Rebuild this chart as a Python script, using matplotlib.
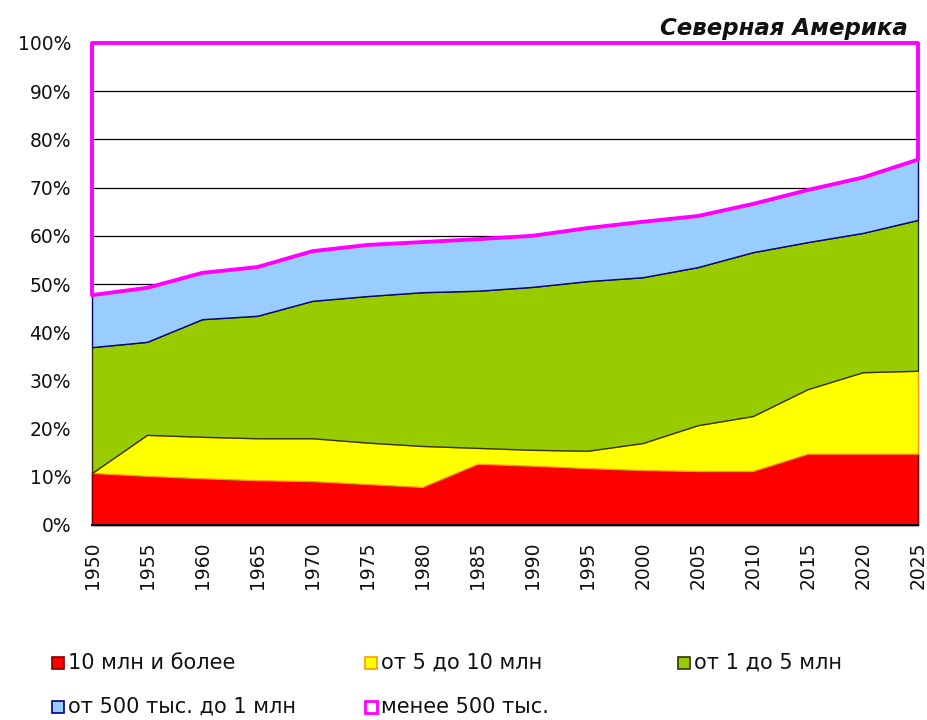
import numpy as np
import matplotlib.pyplot as plt
from matplotlib.patches import Rectangle

plt.rcParams['font.family'] = ['DejaVu Sans']

years = [1950, 1955, 1960, 1965, 1970, 1975, 1980, 1985, 1990, 1995, 2000, 2005, 2010, 2015, 2020, 2025]
labels = ['10 млн и более', 'от 5 до 10 млн', 'от 1 до 5 млн', 'от 500 тыс. до 1 млн', 'менее 500 тыс.']

# shares of urban population, %
big = [10.8, 10.2, 9.7, 9.3, 9.1, 8.5, 7.9, 12.7, 12.3, 11.8, 11.4, 11.2, 11.2, 14.8, 14.8, 14.8]
mid = [0.0, 8.5, 8.6, 8.7, 8.9, 8.6, 8.5, 3.3, 3.3, 3.6, 5.6, 9.5, 11.4, 13.4, 16.9, 17.2]
one_five = [26.1, 19.3, 24.4, 25.4, 28.5, 30.4, 31.9, 32.6, 33.8, 35.2, 34.4, 32.8, 34.0, 30.5, 28.9, 31.3]
half_one = [10.8, 11.2, 9.6, 10.1, 10.3, 10.6, 10.4, 10.7, 10.6, 11.0, 11.5, 10.6, 10.0, 10.8, 11.5, 12.5]
small = [52.3, 50.8, 47.7, 46.5, 43.2, 41.9, 41.3, 40.7, 40.0, 38.4, 37.1, 35.9, 33.4, 30.5, 27.9, 24.2]

faces = ['#ff0000', '#ffff00', '#99cc00', '#99ccff', 'none']
edges = ['#800000', '#ff9900', '#333300', '#000080', '#ff00ff']
widths = [1.2, 1.0, 1.0, 1.0, 2.8]

fig = plt.figure(figsize=(9.28, 7.2), dpi=100)
ax = fig.add_axes([92/928, 1 - 525/720, 826/928, 482/720])

series = [big, mid, one_five, half_one, small]
cum = np.cumsum(np.array(series), axis=0)
bottom = np.zeros(len(years))
for i in range(len(series)):
    ax.fill_between(years, bottom, cum[i], facecolor=faces[i], edgecolor=edges[i],
                    linewidth=widths[i], zorder=2 + i, clip_on=False)
    bottom = cum[i]

ax.set_xlim(1950, 2025)
ax.set_ylim(0, 100)
ax.set_yticks(np.arange(0, 101, 10))
ax.set_yticklabels([f'{v}%' for v in range(0, 101, 10)])
ax.set_xticks(years)
ax.set_xticklabels([str(y) for y in years], rotation=90)
ax.tick_params(axis='both', length=0, labelsize=13.5, colors='#111111')
ax.tick_params(axis='y', pad=15)
ax.tick_params(axis='x', pad=12)
ax.grid(axis='y', color='black', linewidth=0.9, zorder=0)
ax.set_axisbelow(True)
for s in ['left', 'right', 'top']:
    ax.spines[s].set_visible(False)
ax.spines['bottom'].set_color('black')
ax.spines['bottom'].set_linewidth(1.5)
ax.spines['bottom'].set_zorder(10)

fig.text(908/928, 1 - 28/720, 'Северная Америка', ha='right', va='center',
         fontsize=16.5, fontweight='bold', fontstyle='italic', color='#111111')

# legend, laid out row by row like the original
pos = [(52, 663), (365, 663), (678, 663), (52, 707), (365, 707)]
for i, (px, py) in enumerate(pos):
    fig.add_artist(Rectangle(((px) / 928, 1 - (py + 6) / 720), 12 / 928, 12 / 720,
                             facecolor='white' if faces[i] == 'none' else faces[i],
                             edgecolor=edges[i],
                             linewidth=2 if i == 4 else 1.2, transform=fig.transFigure))
    fig.text((px + 16) / 928, 1 - py / 720, labels[i], ha='left', va='center',
             fontsize=15, color='#111111')

fig.savefig('out.png', dpi=100)
